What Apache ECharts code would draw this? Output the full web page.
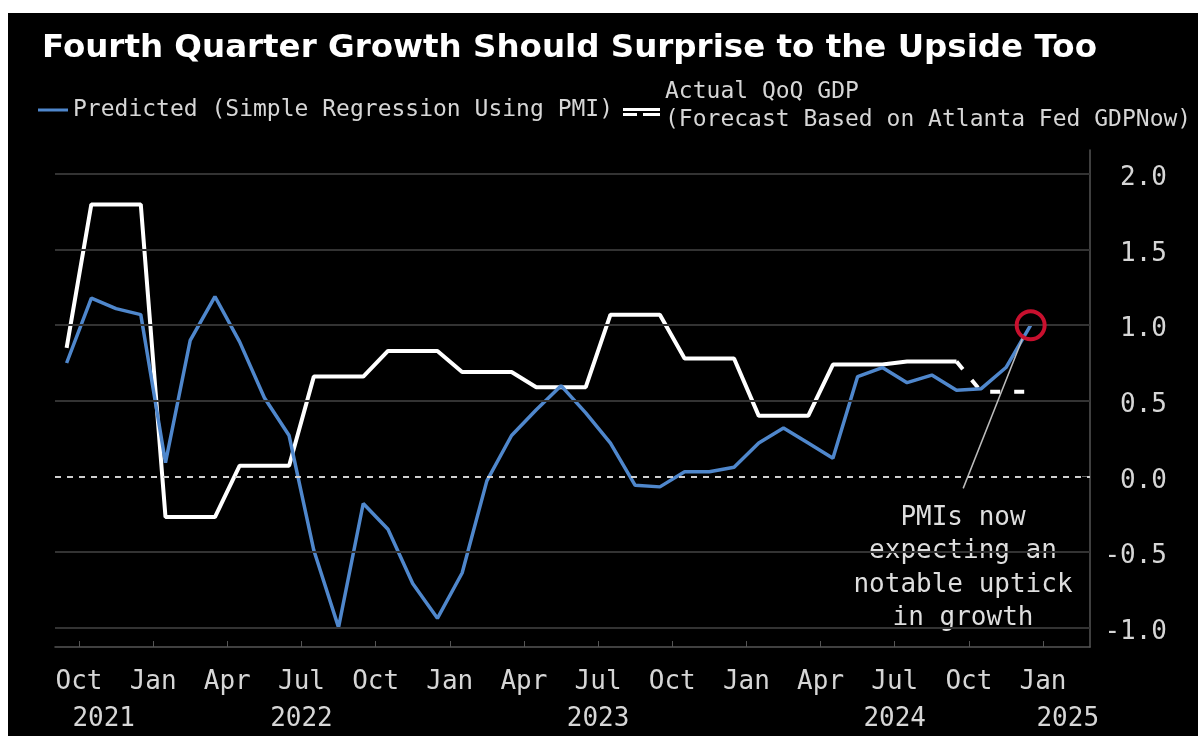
<!DOCTYPE html>
<html>
<head>
<meta charset="utf-8">
<script src="https://cdn.jsdelivr.net/npm/echarts@6/dist/echarts.min.js"></script>
<style>
  html, body { margin: 0; padding: 0; background: #fff; width: 1198px; height: 736px; overflow: hidden; }
  #chart { position: absolute; left: 8px; top: 13px; width: 1190px; height: 723px; background: #000; }
</style>
</head>
<body>
<div id="chart"></div>
<script>
// Monthly observations, Sep 2021 .. Dec 2024
const months = [
  '2021-09','2021-10','2021-11','2021-12',
  '2022-01','2022-02','2022-03','2022-04','2022-05','2022-06','2022-07','2022-08','2022-09','2022-10','2022-11','2022-12',
  '2023-01','2023-02','2023-03','2023-04','2023-05','2023-06','2023-07','2023-08','2023-09','2023-10','2023-11','2023-12',
  '2024-01','2024-02','2024-03','2024-04','2024-05','2024-06','2024-07','2024-08','2024-09','2024-10','2024-11','2024-12'
];

// Predicted QoQ growth from a simple regression on PMI
const predicted = [
  0.75, 1.18, 1.11, 1.07,
  0.09, 0.90, 1.19, 0.89, 0.52, 0.27, -0.49, -1.00, -0.18, -0.35, -0.71, -0.94,
  -0.64, -0.03, 0.27, 0.44, 0.60, 0.42, 0.22, -0.06, -0.07, 0.03, 0.03, 0.06,
  0.22, 0.32, 0.22, 0.12, 0.66, 0.72, 0.62, 0.67, 0.57, 0.58, 0.72, 1.00
];

// Actual QoQ GDP, quarterly value repeated for each month (Sep 2021 .. Sep 2024)
const actualQoQ = [
  0.85, 1.80, 1.80, 1.80,
  -0.27, -0.27, -0.27, 0.07, 0.07, 0.07, 0.66, 0.66, 0.66, 0.83, 0.83, 0.83,
  0.69, 0.69, 0.69, 0.59, 0.59, 0.59, 1.07, 1.07, 1.07, 0.78, 0.78, 0.78,
  0.40, 0.40, 0.40, 0.74, 0.74, 0.74, 0.76, 0.76, 0.76
];

// Atlanta Fed GDPNow based estimate for Q4 2024 (Oct .. Dec 2024)
const gdpNowForecast = [0.56, 0.56, 0.56];

// Axis ticks
const yTicks = [-1.0, -0.5, 0.0, 0.5, 1.0, 1.5, 2.0];
const monthTickMonths = ['2021-10','2022-01','2022-04','2022-07','2022-10','2023-01','2023-04','2023-07','2023-10','2024-01','2024-04','2024-07','2024-10','2025-01'];
const monthTickNames  = ['Oct','Jan','Apr','Jul','Oct','Jan','Apr','Jul','Oct','Jan','Apr','Jul','Oct','Jan'];
const yearTickMonths  = ['2021-11','2022-07','2023-07','2024-07','2025-02'];
const yearTickNames   = ['2021','2022','2023','2024','2025'];

const BLUE = '#4f87cc';
const MONO = '"DejaVu Sans Mono", monospace';
const LABEL = '#d6d6d6';

// position of a month on the x axis: the month's observation sits at its index,
// the label sits mid-month (half a step before)
function monthIndex(ym) {
  const [y, m] = ym.split('-').map(Number);
  return (y - 2021) * 12 + (m - 9);
}
const monthTickPos = monthTickMonths.map(m => monthIndex(m) - 0.5);
const yearTickPos = yearTickMonths.map(m => monthIndex(m) - 0.5);

function lookup(pos, names, value) {
  for (let i = 0; i < pos.length; i++) if (Math.abs(pos[i] - value) < 1e-6) return names[i];
  return '';
}

const predictedData = predicted.map((v, i) => [i, v]);
const actualData = actualQoQ.map((v, i) => [i, v]);
const lastActual = actualQoQ.length - 1;
const forecastData = [[lastActual, actualQoQ[lastActual]]].concat(
  gdpNowForecast.map((v, k) => [lastActual + 1 + k, v])
);
const lastIdx = predicted.length - 1;

const X_MIN = -0.47, X_MAX = 41.4;
const Y_MIN = -1.13, Y_MAX = 2.16;

const chart = echarts.init(document.getElementById('chart'), null, { renderer: 'canvas' });

chart.setOption({
  backgroundColor: '#000',
  animation: false,
  title: {
    text: 'Fourth Quarter Growth Should Surprise to the Upside Too',
    left: 34, top: 19, padding: 0,
    textStyle: { color: '#fff', fontFamily: '"DejaVu Sans", sans-serif', fontWeight: 'bold', fontSize: 32.5 }
  },
  legend: [
    {
      left: 30, top: 83, padding: 0,
      selectedMode: false,
      itemWidth: 30, itemHeight: 3,
      data: [{ name: 'Predicted (Simple Regression Using PMI)', icon: 'rect', itemStyle: { color: BLUE, borderWidth: 0 } }],
      textStyle: { color: LABEL, fontFamily: MONO, fontSize: 23, lineHeight: 28 }
    },
    {
      left: 615, top: 65, padding: 0,
      selectedMode: false,
      itemWidth: 37, itemHeight: 20,
      // solid bar over a dashed bar, sitting in the lower part of the icon box
      data: [{ name: 'Actual QoQ GDP', icon: 'path://M0,-12 M0,0H37V3H0Z M0,5H14V8H0Z M20,5H37V8H20Z', itemStyle: { color: '#fff', borderWidth: 0 } }],
      formatter: n => n + '\n(Forecast Based on Atlanta Fed GDPNow)',
      textStyle: { color: LABEL, fontFamily: MONO, fontSize: 23, lineHeight: 28 }
    }
  ],
  grid: { left: 47, right: 108, top: 137, bottom: 89 },
  xAxis: [
    {
      type: 'value', min: X_MIN, max: X_MAX,
      axisLine: { show: true, onZero: false, lineStyle: { color: '#555', width: 1.5 } },
      axisTick: { show: true, inside: true, length: 6, customValues: monthTickPos, lineStyle: { color: '#555' } },
      axisLabel: {
        customValues: monthTickPos, margin: 22,
        color: LABEL, fontFamily: MONO, fontSize: 26,
        formatter: v => lookup(monthTickPos, monthTickNames, v)
      },
      splitLine: { show: false }
    },
    {
      type: 'value', min: X_MIN, max: X_MAX, position: 'bottom', offset: 0,
      axisLine: { show: false, onZero: false }, axisTick: { show: false },
      axisLabel: {
        customValues: yearTickPos, margin: 59,
        color: LABEL, fontFamily: MONO, fontSize: 26,
        formatter: v => lookup(yearTickPos, yearTickNames, v)
      },
      splitLine: { show: false }
    }
  ],
  yAxis: {
    type: 'value', position: 'right', min: Y_MIN, max: Y_MAX,
    axisLine: { show: true, onZero: false, lineStyle: { color: '#555', width: 1.5 } },
    axisTick: { show: true, inside: true, length: 8, customValues: yTicks, lineStyle: { color: '#666' } },
    axisLabel: {
      customValues: yTicks, margin: 77, align: 'right',
      color: LABEL, fontFamily: MONO, fontSize: 26,
      formatter: v => '{v|' + v.toFixed(1) + '}',
      rich: { v: { color: LABEL, fontFamily: MONO, fontSize: 26, padding: [9, 0, 0, 0] } }
    },
    splitLine: { show: false }
  },
  graphic: [{
    type: 'text', x: 955, y: 555, silent: true,
    style: {
      text: 'PMIs now\nexpecting an\nnotable uptick\nin growth',
      align: 'center', verticalAlign: 'middle',
      font: '26px ' + MONO, lineHeight: 33.5, fill: '#dedede'
    }
  }],
  series: [
    {
      name: 'gridlines', type: 'line', data: [], silent: true, z: 1,
      markLine: {
        silent: true, symbol: ['none', 'none'], label: { show: false },
        lineStyle: { color: '#333', width: 2, type: 'solid' },
        data: yTicks.map(v => v === 0
          ? { yAxis: v, lineStyle: { color: '#cfcfcf', width: 2, type: [6, 6] } }
          : { yAxis: v })
      }
    },
    {
      name: 'Actual QoQ GDP', type: 'line', data: actualData, z: 2,
      symbol: 'none', color: '#fff',
      lineStyle: { color: '#fff', width: 4 }
    },
    {
      name: 'GDPNow Forecast', type: 'line', data: forecastData, z: 2,
      symbol: 'none', color: '#fff',
      lineStyle: { color: '#fff', width: 4, type: [10, 14] }
    },
    {
      name: 'Predicted (Simple Regression Using PMI)', type: 'line', data: predictedData, z: 3,
      symbol: 'none', color: BLUE,
      lineStyle: { color: BLUE, width: 3.5 },
      markPoint: {
        silent: true, symbol: 'circle', symbolSize: 28,
        itemStyle: { color: 'rgba(0,0,0,0)', borderColor: '#c8102e', borderWidth: 4 },
        label: { show: false },
        data: [{ coord: [lastIdx, predicted[lastIdx]] }]
      },
      markLine: {
        silent: true, symbol: ['none', 'none'], label: { show: false },
        lineStyle: { color: '#bdbdbd', width: 1.5, type: 'solid' },
        data: [[{ coord: [38.69, 0.92] }, { coord: [36.27, -0.08] }]]
      }
    }
  ]
});
</script>
</body>
</html>
